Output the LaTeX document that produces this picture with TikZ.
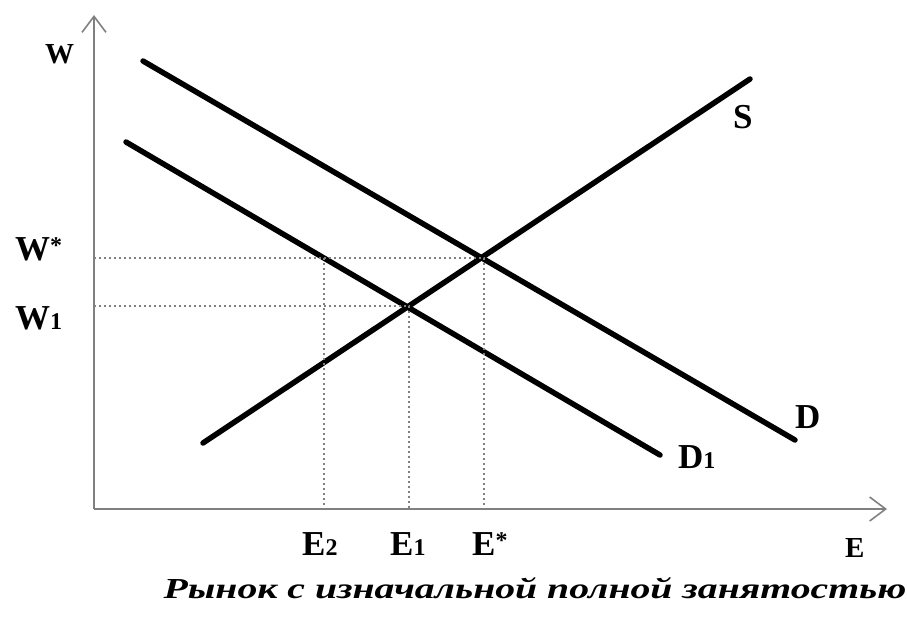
\documentclass[tikz,border=0pt]{standalone}
\usepackage{fontspec}
\setmainfont{Liberation Serif}
\usetikzlibrary{arrows.meta}
\tikzset{
  axis/.style={draw=gray, line width=2pt, -{Straight Barb[length=16pt,width=24pt,line width=1.6pt]}},
  curve/.style={line width=5.5pt, line cap=round},
  guide/.style={draw=gray, line width=1.8pt, dash pattern=on 2pt off 3pt},
  lbl/.style={anchor=base west, inner sep=0pt, font=\fontsize{35}{35}\selectfont\bfseries},
  small lbl/.style={lbl, font=\fontsize{29}{29}\selectfont\bfseries},
}
\newcommand{\lowdigit}[1]{{\fontsize{24}{24}\selectfont #1}}
\newcommand{\topstar}{\raisebox{7pt}{\fontsize{24}{24}\selectfont *}}

\begin{document}
\begin{tikzpicture}[x=1pt,y=-1pt]
  \useasboundingbox (0,0) rectangle (907,619);
  % axes
  \coordinate (O) at (94,509);
  \coordinate (Wtop) at (94,15);
  \coordinate (Eend) at (887,509);
  \draw[axis] (O) -- (Wtop);
  \draw[axis] (O) -- (Eend);
  % curves
  \coordinate (D-a) at (143,61);
  \coordinate (D-b) at (795,440);
  \coordinate (D1-a) at (126,142);
  \coordinate (D1-b) at (660,455);
  \coordinate (S-a) at (203,443);
  \coordinate (S-b) at (750,79);
  \draw[curve] (D-a) -- (D-b);
  \draw[curve] (D1-a) -- (D1-b);
  \draw[curve] (S-a) -- (S-b);
  % equilibrium points
  \coordinate (eq) at (484,258);
  \coordinate (eq1) at (409,306);
  \coordinate (e2) at (324,258);
  \draw[guide] (O |- eq) -- (eq) -- (eq |- O);
  \draw[guide] (O |- eq1) -- (eq1) -- (eq1 |- O);
  \draw[guide] (e2) -- (e2 |- O);
  % labels
  \node[small lbl] (W) at (45,63) {W};
  \node[lbl] (Wstar) at (15,260) {W\topstar};
  \node[lbl] (W1) at (15,329) {W\lowdigit{1}};
  \node[lbl] (S) at (733,128) {S};
  \node[lbl] (D) at (795,428) {D};
  \node[lbl] (D1) at (678,468) {D\lowdigit{1}};
  \node[lbl] (E2) at (302,555) {E\lowdigit{2}};
  \node[lbl] (E1) at (390,555) {E\lowdigit{1}};
  \node[lbl] (Estar) at (472,555) {E\topstar};
  \node[small lbl] (E) at (845,557) {E};
  \node[anchor=base, inner sep=0pt] (caption) at (535,598)
    {\scalebox{1.37}[1]{\fontsize{29}{29}\selectfont\bfseries\itshape Рынок с изначальной полной занятостью}};
\end{tikzpicture}
\end{document}
